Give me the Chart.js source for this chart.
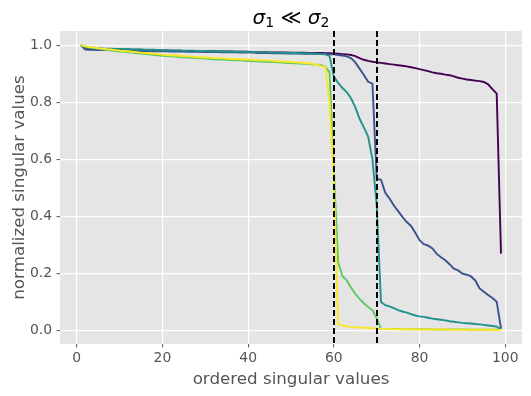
<!DOCTYPE html>
<html>
<head>
<meta charset="utf-8">
<script src="https://cdn.jsdelivr.net/npm/chart.js@4.4.1/dist/chart.umd.min.js"></script>
<style>
  html, body { margin: 0; padding: 0; background: #fff; }
  canvas { display: block; }
</style>
</head>
<body>
<canvas id="svChart" width="531" height="396"></canvas>
<script>
// singular values, normalized, one list per run (index 1..99)
var svPurple = [
  1.000, 0.992, 0.990, 0.989, 0.988, 0.987, 0.987, 0.986, 0.986, 0.985,
  0.985, 0.985, 0.984, 0.984, 0.984, 0.983, 0.983, 0.983, 0.982, 0.982,
  0.982, 0.981, 0.981, 0.981, 0.980, 0.980, 0.980, 0.980, 0.979, 0.979,
  0.979, 0.979, 0.978, 0.978, 0.978, 0.978, 0.977, 0.977, 0.977, 0.977,
  0.976, 0.976, 0.976, 0.976, 0.975, 0.975, 0.975, 0.975, 0.975, 0.974,
  0.974, 0.974, 0.974, 0.973, 0.973, 0.973, 0.973, 0.972, 0.972, 0.971,
  0.970, 0.969, 0.968, 0.966, 0.962, 0.955, 0.949, 0.945, 0.942, 0.940,
  0.938, 0.936, 0.934, 0.932, 0.930, 0.928, 0.926, 0.923, 0.920, 0.916,
  0.913, 0.909, 0.905, 0.902, 0.900, 0.897, 0.895, 0.891, 0.886, 0.883,
  0.880, 0.878, 0.876, 0.874, 0.871, 0.863, 0.846, 0.830, 0.269
];
var svBlue = [
  1.000, 0.985, 0.984, 0.984, 0.983, 0.983, 0.983, 0.982, 0.982, 0.982,
  0.981, 0.981, 0.981, 0.980, 0.980, 0.980, 0.980, 0.979, 0.979, 0.979,
  0.979, 0.978, 0.978, 0.978, 0.978, 0.977, 0.977, 0.977, 0.977, 0.976,
  0.976, 0.976, 0.976, 0.975, 0.975, 0.975, 0.975, 0.974, 0.974, 0.974,
  0.974, 0.973, 0.973, 0.973, 0.973, 0.972, 0.972, 0.972, 0.971, 0.971,
  0.971, 0.971, 0.970, 0.970, 0.970, 0.970, 0.969, 0.969, 0.968, 0.968,
  0.966, 0.964, 0.961, 0.955, 0.940, 0.918, 0.896, 0.872, 0.865, 0.532,
  0.528, 0.482, 0.462, 0.438, 0.418, 0.398, 0.380, 0.366, 0.342, 0.316,
  0.302, 0.297, 0.287, 0.268, 0.256, 0.246, 0.232, 0.216, 0.210, 0.199,
  0.195, 0.189, 0.175, 0.147, 0.135, 0.124, 0.113, 0.100, 0.006
];
var svTeal = [
  1.000, 0.994, 0.992, 0.991, 0.990, 0.989, 0.988, 0.988, 0.987, 0.987,
  0.986, 0.986, 0.985, 0.985, 0.985, 0.984, 0.984, 0.984, 0.983, 0.983,
  0.983, 0.982, 0.982, 0.982, 0.981, 0.981, 0.981, 0.980, 0.980, 0.980,
  0.979, 0.979, 0.979, 0.978, 0.978, 0.978, 0.977, 0.977, 0.977, 0.976,
  0.976, 0.976, 0.975, 0.975, 0.975, 0.974, 0.974, 0.974, 0.973, 0.973,
  0.973, 0.972, 0.972, 0.971, 0.971, 0.970, 0.969, 0.968, 0.962, 0.890,
  0.868, 0.850, 0.836, 0.814, 0.783, 0.742, 0.712, 0.680, 0.600, 0.440,
  0.099, 0.088, 0.084, 0.078, 0.071, 0.066, 0.062, 0.057, 0.052, 0.049,
  0.047, 0.044, 0.041, 0.039, 0.037, 0.035, 0.032, 0.030, 0.028, 0.026,
  0.025, 0.024, 0.022, 0.021, 0.019, 0.017, 0.015, 0.013, 0.003
];
var svGreen = [
  1.000, 0.995, 0.992, 0.990, 0.988, 0.986, 0.984, 0.982, 0.980, 0.978,
  0.977, 0.975, 0.974, 0.972, 0.971, 0.969, 0.968, 0.966, 0.965, 0.963,
  0.962, 0.961, 0.960, 0.959, 0.958, 0.957, 0.956, 0.955, 0.954, 0.953,
  0.952, 0.951, 0.950, 0.950, 0.949, 0.948, 0.947, 0.947, 0.946, 0.945,
  0.944, 0.944, 0.943, 0.942, 0.941, 0.941, 0.940, 0.939, 0.938, 0.938,
  0.937, 0.936, 0.935, 0.934, 0.933, 0.932, 0.930, 0.925, 0.905, 0.560,
  0.240, 0.190, 0.175, 0.150, 0.128, 0.110, 0.095, 0.082, 0.070, 0.042,
  0.006, 0.005, 0.005, 0.005, 0.005, 0.004, 0.004, 0.004, 0.004, 0.004,
  0.004, 0.004, 0.003, 0.003, 0.003, 0.003, 0.003, 0.003, 0.003, 0.003,
  0.003, 0.002, 0.002, 0.002, 0.002, 0.002, 0.002, 0.002, 0.001
];
var svYellow = [
  1.000, 0.997, 0.994, 0.992, 0.990, 0.988, 0.986, 0.985, 0.983, 0.981,
  0.980, 0.979, 0.977, 0.976, 0.974, 0.973, 0.972, 0.970, 0.969, 0.967,
  0.966, 0.965, 0.964, 0.963, 0.962, 0.961, 0.960, 0.959, 0.958, 0.957,
  0.956, 0.955, 0.955, 0.954, 0.953, 0.952, 0.952, 0.951, 0.950, 0.950,
  0.949, 0.948, 0.947, 0.947, 0.946, 0.945, 0.944, 0.943, 0.942, 0.941,
  0.940, 0.939, 0.938, 0.937, 0.935, 0.932, 0.927, 0.924, 0.800, 0.520,
  0.022, 0.017, 0.014, 0.012, 0.011, 0.010, 0.009, 0.008, 0.007, 0.006,
  0.005, 0.005, 0.005, 0.004, 0.004, 0.004, 0.004, 0.004, 0.004, 0.003,
  0.003, 0.003, 0.003, 0.003, 0.003, 0.003, 0.003, 0.002, 0.002, 0.002,
  0.002, 0.002, 0.002, 0.002, 0.002, 0.002, 0.001, 0.001, 0.001
];

var seriesList = [svPurple, svBlue, svTeal, svGreen, svYellow];
var seriesColors = ["#440154", "#3b528b", "#21918c", "#5ec962", "#fde725"];
var xTicks = [0, 20, 40, 60, 80, 100];
var yTicks = [0.0, 0.2, 0.4, 0.6, 0.8, 1.0];
var cutLines = [60, 70];

var tickGrey = "#555555";
var fontFam = "'DejaVu Sans', sans-serif";

function toPoints(values) {
    var pts = [];
    for (var i = 0; i < values.length; i++) {
        pts.push({ x: i + 1, y: values[i] });
    }
    return pts;
}

var datasets = [];
for (var s = 0; s < seriesList.length; s++) {
    datasets.push({
        data: toPoints(seriesList[s]),
        borderColor: seriesColors[s],
        backgroundColor: seriesColors[s],
        borderWidth: 1.9,
        pointRadius: 0,
        tension: 0,
        fill: false,
        order: seriesList.length - s   // later series on top, like matplotlib
    });
}

// grey panel behind the plot
var panelBg = {
    id: "panelBg",
    beforeDraw: function(chart) {
        var a = chart.chartArea, ctx = chart.ctx;
        ctx.save();
        ctx.fillStyle = "#e5e5e5";
        ctx.fillRect(a.left, a.top, a.right - a.left, a.bottom - a.top);
        ctx.restore();
    }
};

// dashed verticals at the two cut points
var cutMarks = {
    id: "cutMarks",
    afterDatasetsDraw: function(chart) {
        var a = chart.chartArea, ctx = chart.ctx, xs = chart.scales.x;
        ctx.save();
        ctx.strokeStyle = "#000";
        ctx.lineWidth = 2;
        ctx.setLineDash([6, 3]);
        cutLines.forEach(function(v) {
            var px = Math.round(xs.getPixelForValue(v));
            ctx.beginPath();
            ctx.moveTo(px, a.top);
            ctx.lineTo(px, a.bottom);
            ctx.stroke();
        });
        ctx.restore();
    }
};

// title: sigma_1 << sigma_2, drawn piece by piece
var mathTitle = {
    id: "mathTitle",
    afterDraw: function(chart) {
        var ctx = chart.ctx, a = chart.chartArea;
        var big = "20px " + fontFam, ital = "italic 20px " + fontFam, small = "14px " + fontFam;
        var parts = [
            { t: "\u03C3", f: ital, dy: 0 },
            { t: "1", f: small, dy: 3 },
            { t: " \u226A ", f: big, dy: 0 },
            { t: "\u03C3", f: ital, dy: 0 },
            { t: "2", f: small, dy: 3 }
        ];
        ctx.save();
        ctx.fillStyle = "#000";
        ctx.textBaseline = "alphabetic";
        var total = 0;
        parts.forEach(function(p) { ctx.font = p.f; p.w = ctx.measureText(p.t).width; total += p.w; });
        var x = (a.left + a.right) / 2 - total / 2;
        var base = 24;
        parts.forEach(function(p) {
            ctx.font = p.f;
            ctx.fillText(p.t, x, base + p.dy);
            x += p.w;
        });
        ctx.restore();
    }
};

var ctx = document.getElementById("svChart").getContext("2d");
new Chart(ctx, {
    type: "line",
    data: { datasets: datasets },
    plugins: [panelBg, cutMarks, mathTitle],
    options: {
        responsive: false,
        animation: false,
        events: [],
        layout: { padding: { top: 31, right: 9, left: 0, bottom: 0 } },
        plugins: { legend: { display: false }, tooltip: { enabled: false }, title: { display: false } },
        scales: {
            x: {
                type: "linear",
                min: -3.9,
                max: 103.9,
                afterBuildTicks: function(scale) {
                    scale.ticks = xTicks.map(function(v) { return { value: v }; });
                },
                afterFit: function(scale) { scale.height = 52; },
                grid: { color: "#ffffff", lineWidth: 1.2, tickColor: tickGrey, tickLength: 3.5, tickWidth: 1 },
                border: { display: false },
                ticks: {
                    color: tickGrey,
                    font: { family: fontFam, size: 13.9 },
                    padding: 3,
                    maxRotation: 0,
                    callback: function(v) { return String(v); }
                },
                title: {
                    display: true,
                    text: "ordered singular values",
                    color: tickGrey,
                    font: { family: fontFam, size: 16.7 },
                    padding: { top: 0, bottom: 6 }
                }
            },
            y: {
                type: "linear",
                min: -0.048,
                max: 1.05,
                afterBuildTicks: function(scale) {
                    scale.ticks = yTicks.map(function(v) { return { value: v }; });
                },
                afterFit: function(scale) { scale.width = 60; },
                grid: { color: "#ffffff", lineWidth: 1.2, tickColor: tickGrey, tickLength: 3.5, tickWidth: 1 },
                border: { display: false },
                ticks: {
                    color: tickGrey,
                    font: { family: fontFam, size: 13.9 },
                    padding: 4.5,
                    callback: function(v) { return v.toFixed(1); }
                },
                title: {
                    display: true,
                    text: "normalized singular values",
                    color: tickGrey,
                    font: { family: fontFam, size: 16.7 },
                    padding: { top: 10, bottom: 0 }
                }
            }
        }
    }
});
</script>
</body>
</html>
